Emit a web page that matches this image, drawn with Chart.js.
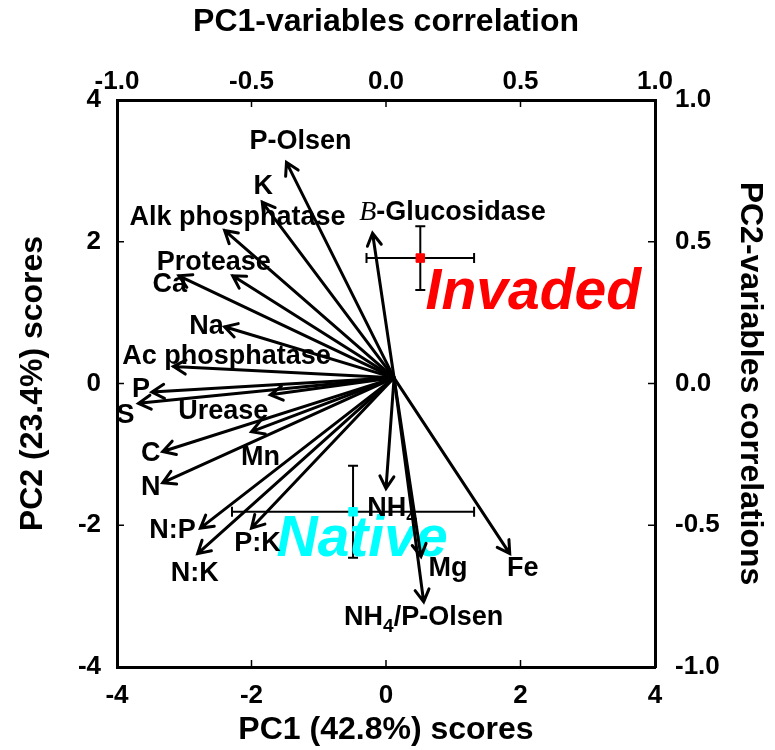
<!DOCTYPE html>
<html>
<head>
<meta charset="utf-8">
<script src="https://cdn.jsdelivr.net/npm/chart.js@4.4.1/dist/chart.umd.min.js"></script>
<style>
  body { margin: 0; background: #fff; }
  #wrap { width: 775px; height: 750px; }
</style>
</head>
<body>
<div id="wrap"><canvas id="biplot"></canvas></div>
<script>
// variable loadings (correlation units, top / right axes)
const varNames = ['P-Olsen', 'K', 'Alk phosphatase', 'Protease', 'Ca', 'Na', 'Ac phosphatase',
  'P', 'S', 'Urease', 'C', 'N', 'Mn', 'N:P', 'N:K', 'P:K', 'NH4', 'Mg', 'NH4/P-Olsen', 'Fe', 'B-Glucosidase'];
const pc1Corr = [-0.37, -0.46, -0.60, -0.57, -0.77, -0.60, -0.79,
  -0.87, -0.92, -0.43, -0.83, -0.83, -0.50, -0.69, -0.70, -0.50, 0.00, 0.13, 0.14, 0.46, -0.05];
const pc2Corr = [0.78, 0.64, 0.54, 0.38, 0.38, 0.20, 0.06,
  -0.03, -0.07, -0.04, -0.24, -0.35, -0.17, -0.51, -0.60, -0.51, -0.37, -0.61, -0.77, -0.60, 0.53];
const arrowOrigin = [0.03, 0.02];

// group scores (mean +/- error)
const groupNames = ['Invaded', 'Native'];
const groupPC1 = [0.51, -0.49];
const groupPC2 = [1.77, -1.81];
const groupPC1Err = [0.80, 1.80];
const groupPC2Err = [0.45, 0.65];
const groupColors = ['#ff0000', '#00ffff'];

const scoreTicks = [-4, -2, 0, 2, 4];
const corrTicks = [-1.0, -0.5, 0.0, 0.5, 1.0];

// label placement (pixels from arrow tip / marker)
const labelOffsets = {
  'P-Olsen': [14, -21], 'K': [1, -16], 'Alk phosphatase': [13, -13], 'Protease': [-19, -13],
  'Ca': [-9, 9], 'Na': [-18, 0], 'Ac phosphatase': [53, -10], 'P': [-11, -2], 'S': [-13, 12],
  'Urease': [-47, 17], 'C': [-12, 2], 'N': [-12, 5], 'Mn': [9, 26], 'N:P': [-28, 2],
  'N:K': [-3, 20], 'P:K': [6, 15], 'NH4': [6, 20], 'Mg': [27, 12], 'NH4/P-Olsen': [0, 16],
  'Fe': [13, 15], 'B-Glucosidase': [80, -21]
};
const groupLabelOffsets = [[113, 35], [9, 28]];

const FONT = '"Liberation Sans", Arial, sans-serif';

function labelParts(name) {
  if (name === 'NH4') return [{ t: 'NH' }, { t: '4', sub: true }];
  if (name === 'NH4/P-Olsen') return [{ t: 'NH' }, { t: '4', sub: true }, { t: '/P-Olsen' }];
  if (name === 'B-Glucosidase') return [{ t: 'B', serif: true }, { t: '-Glucosidase' }];
  return [{ t: name }];
}

function partFont(p) {
  if (p.serif) return 'italic 28px "Liberation Serif", "DejaVu Serif", serif';
  if (p.sub) return 'bold 19px ' + FONT;
  return 'bold 27px ' + FONT;
}

function drawRich(ctx, name, cx, cy) {
  const parts = labelParts(name);
  let w = 0;
  parts.forEach(p => { ctx.font = partFont(p); p.w = ctx.measureText(p.t).width; w += p.w; });
  let x = cx - w / 2;
  ctx.textAlign = 'left';
  ctx.textBaseline = 'middle';
  ctx.fillStyle = '#000';
  parts.forEach(p => {
    ctx.font = partFont(p);
    ctx.fillText(p.t, x, p.sub ? cy + 9 : cy);
    x += p.w;
  });
}

const biplotPlugin = {
  id: 'biplot',
  beforeDatasetsDraw(chart) {
    const ctx = chart.ctx;
    const xs = chart.scales.x, ys = chart.scales.y;
    ctx.save();
    // error bars
    ctx.strokeStyle = '#000';
    ctx.lineWidth = 2;
    groupNames.forEach((g, i) => {
      const cx = xs.getPixelForValue(groupPC1[i]);
      const cy = ys.getPixelForValue(groupPC2[i]);
      const x0 = xs.getPixelForValue(groupPC1[i] - groupPC1Err[i]);
      const x1 = xs.getPixelForValue(groupPC1[i] + groupPC1Err[i]);
      const y0 = ys.getPixelForValue(groupPC2[i] + groupPC2Err[i]);
      const y1 = ys.getPixelForValue(groupPC2[i] - groupPC2Err[i]);
      ctx.beginPath();
      ctx.moveTo(x0, cy); ctx.lineTo(x1, cy);
      ctx.moveTo(x0, cy - 5); ctx.lineTo(x0, cy + 5);
      ctx.moveTo(x1, cy - 5); ctx.lineTo(x1, cy + 5);
      ctx.moveTo(cx, y0); ctx.lineTo(cx, y1);
      ctx.moveTo(cx - 5, y0); ctx.lineTo(cx + 5, y0);
      ctx.moveTo(cx - 5, y1); ctx.lineTo(cx + 5, y1);
      ctx.stroke();
    });
    // group names
    groupNames.forEach((g, i) => {
      const cx = xs.getPixelForValue(groupPC1[i]) + groupLabelOffsets[i][0];
      const cy = ys.getPixelForValue(groupPC2[i]) + groupLabelOffsets[i][1];
      ctx.font = 'italic bold 57px ' + FONT;
      ctx.fillStyle = groupColors[i];
      ctx.textAlign = 'center';
      ctx.textBaseline = 'middle';
      ctx.fillText(g, cx, cy);
    });
    ctx.restore();
  },
  afterDatasetsDraw(chart) {
    const ctx = chart.ctx;
    const xs = chart.scales.xc, ys = chart.scales.yc;
    const ox = xs.getPixelForValue(arrowOrigin[0]);
    const oy = ys.getPixelForValue(arrowOrigin[1]);
    ctx.save();
    ctx.strokeStyle = '#000';
    ctx.lineWidth = 3;
    ctx.lineCap = 'round';
    varNames.forEach((name, i) => {
      const tx = xs.getPixelForValue(pc1Corr[i]);
      const ty = ys.getPixelForValue(pc2Corr[i]);
      const ang = Math.atan2(ty - oy, tx - ox);
      const len = 14, spread = Math.PI / 6;
      ctx.beginPath();
      ctx.moveTo(ox, oy); ctx.lineTo(tx, ty);
      ctx.moveTo(tx - len * Math.cos(ang - spread), ty - len * Math.sin(ang - spread));
      ctx.lineTo(tx, ty);
      ctx.lineTo(tx - len * Math.cos(ang + spread), ty - len * Math.sin(ang + spread));
      ctx.stroke();
    });
    varNames.forEach((name, i) => {
      const off = labelOffsets[name];
      drawRich(ctx, name, xs.getPixelForValue(pc1Corr[i]) + off[0], ys.getPixelForValue(pc2Corr[i]) + off[1]);
    });
    // inward tick marks on all four sides
    const a = chart.chartArea;
    ctx.lineWidth = 1.5;
    ctx.lineCap = 'butt';
    Object.values(chart.scales).forEach(s => {
      s.ticks.forEach(t => {
        const p = s.getPixelForValue(t.value);
        ctx.beginPath();
        if (s.position === 'bottom') { ctx.moveTo(p, a.bottom); ctx.lineTo(p, a.bottom - 7); }
        if (s.position === 'top') { ctx.moveTo(p, a.top); ctx.lineTo(p, a.top + 7); }
        if (s.position === 'left') { ctx.moveTo(a.left, p); ctx.lineTo(a.left + 7, p); }
        if (s.position === 'right') { ctx.moveTo(a.right, p); ctx.lineTo(a.right - 7, p); }
        ctx.stroke();
      });
    });
    ctx.restore();
  }
};

const tickFont = { family: FONT, size: 26, weight: 'bold' };
const titleFont = { family: FONT, size: 32, weight: 'bold' };
const border = { display: true, color: '#000', width: 3 };

function axis(pos, min, max, tickList, fmt, title, titlePad, tickPad, size) {
  return {
    type: 'linear',
    position: pos,
    min: min,
    max: max,
    grid: { display: false },
    border: border,
    afterBuildTicks: s => { s.ticks = tickList.map(v => ({ value: v })); },
    afterFit: s => {
      if (pos === 'top' || pos === 'bottom') s.height = size; else s.width = size;
    },
    ticks: {
      color: '#000', font: tickFont, padding: tickPad, autoSkip: false,
      maxRotation: 0, minRotation: 0, callback: fmt
    },
    title: { display: true, text: title, color: '#000', font: titleFont, padding: titlePad }
  };
}

new Chart(document.getElementById('biplot'), {
  type: 'scatter',
  data: {
    datasets: groupNames.map((g, i) => ({
      label: g,
      data: [{ x: groupPC1[i], y: groupPC2[i] }],
      backgroundColor: groupColors[i],
      borderColor: groupColors[i],
      pointStyle: 'rect',
      pointRadius: 6,
      xAxisID: 'x',
      yAxisID: 'y'
    }))
  },
  options: {
    responsive: true,
    maintainAspectRatio: false,
    animation: false,
    layout: { padding: 0 },
    plugins: { legend: { display: false }, tooltip: { enabled: false } },
    scales: {
      x: axis('bottom', -4, 4, scoreTicks, v => String(v), 'PC1 (42.8%) scores', { top: 0, bottom: 1 }, 5, 83),
      y: axis('left', -4, 4, scoreTicks, v => String(v), 'PC2 (23.4%) scores', { top: 14, bottom: 0 }, 8, 117),
      xc: axis('top', -1, 1, corrTicks, v => v.toFixed(1), 'PC1-variables correlation', { top: 3, bottom: 0 }, -5, 100),
      yc: axis('right', -1, 1, corrTicks, v => v.toFixed(1), 'PC2-variables correlations', { top: 6, bottom: 0 }, 12, 120)
    }
  },
  plugins: [biplotPlugin]
});
</script>
</body>
</html>
